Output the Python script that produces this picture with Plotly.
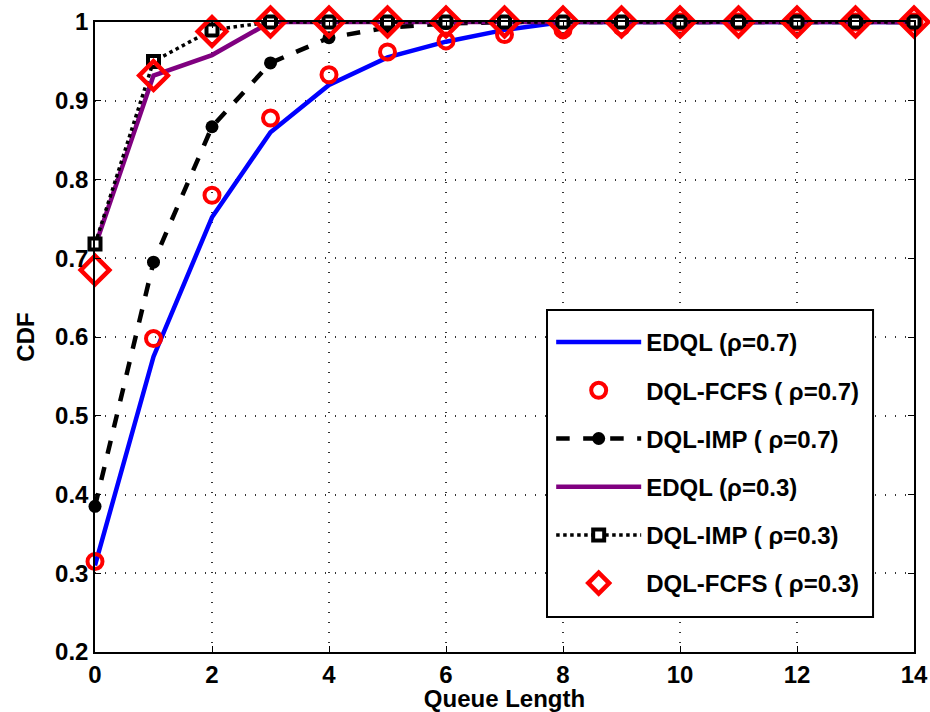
import plotly.graph_objects as go

queue_length = list(range(15))
edql_07 = [0.31, 0.575, 0.752, 0.86, 0.92, 0.955, 0.975, 0.99, 1, 1, 1, 1, 1, 1, 1]
fcfs_07 = [0.315, 0.598, 0.78, 0.878, 0.933, 0.962, 0.976, 0.984, 0.99, 0.994, 1, 1, 1, 1, 1]
imp_07 = [0.385, 0.695, 0.867, 0.948, 0.98, 0.993, 0.998, 1, 1, 1, 1, 1, 1, 1, 1]
edql_03 = [0.715, 0.932, 0.958, 1, 1, 1, 1, 1, 1, 1, 1, 1, 1, 1, 1]
imp_03 = [0.718, 0.95, 0.99, 1, 1, 1, 1, 1, 1, 1, 1, 1, 1, 1, 1]
fcfs_03 = [0.685, 0.932, 0.988, 1, 1, 1, 1, 1, 1, 1, 1, 1, 1, 1, 1]

x_ticks = [0, 2, 4, 6, 8, 10, 12, 14]
y_ticks = [0.2, 0.3, 0.4, 0.5, 0.6, 0.7, 0.8, 0.9, 1]
y_tick_labels = ["0.2", "0.3", "0.4", "0.5", "0.6", "0.7", "0.8", "0.9", "1"]

FONT = "Liberation Sans"

fig = go.Figure()
fig.add_trace(go.Scatter(x=queue_length, y=edql_07, mode="lines", name="EDQL (ρ=0.7)",
                         line=dict(color="#0000ff", width=4.5), legendgroup="a", cliponaxis=False))
fig.add_trace(go.Scatter(x=queue_length, y=fcfs_07, mode="markers", name="DQL-FCFS ( ρ=0.7)",
                         marker=dict(symbol="circle-open", color="#ff0000", size=15, line=dict(width=4, color="#ff0000")),
                         legendgroup="b", cliponaxis=False))
fig.add_trace(go.Scatter(x=queue_length, y=imp_07, mode="lines+markers", name="DQL-IMP ( ρ=0.7)",
                         line=dict(color="black", width=4.5, dash="dash"),
                         marker=dict(symbol="circle", color="black", size=13), legendgroup="c", cliponaxis=False))
fig.add_trace(go.Scatter(x=queue_length, y=edql_03, mode="lines", name="EDQL (ρ=0.3)",
                         line=dict(color="#800080", width=4.5), legendgroup="d", cliponaxis=False))
fig.add_trace(go.Scatter(x=queue_length, y=imp_03, mode="lines+markers", name="DQL-IMP ( ρ=0.3)",
                         line=dict(color="black", width=3.5, dash="dot"),
                         marker=dict(symbol="square", color="white", size=11, line=dict(width=4, color="black")),
                         legendgroup="e", cliponaxis=False))
fig.add_trace(go.Scatter(x=queue_length, y=fcfs_03, mode="markers", name="DQL-FCFS ( ρ=0.3)",
                         marker=dict(symbol="diamond-open", color="#ff0000", size=22, line=dict(width=4.5, color="#ff0000")),
                         legendgroup="f", cliponaxis=False))

axis_common = dict(
    showline=True, linecolor="black", linewidth=1.5, mirror="ticks",
    ticks="inside", ticklen=6, tickcolor="black",
    showgrid=True, gridcolor="#333333", griddash="1px,9px", gridwidth=1.5,
    zeroline=False, automargin=False,
    tickfont=dict(family=FONT, size=24, color="black", weight="bold"),
)

fig.update_layout(
    width=930, height=712,
    margin=dict(l=95, r=16, t=22, b=60),
    paper_bgcolor="white", plot_bgcolor="white",
    font=dict(family=FONT, color="black"),
    xaxis=dict(range=[0, 14], tickvals=x_ticks,
               title=dict(text="Queue Length", font=dict(family=FONT, size=24, color="black", weight="bold"), standoff=8),
               **axis_common),
    yaxis=dict(range=[0.2, 1], tickvals=y_ticks, ticktext=y_tick_labels,
               title=dict(text="CDF", font=dict(family=FONT, size=24, color="black", weight="bold"), standoff=14),
               **axis_common),
    legend=dict(x=0.557, y=0.527, xanchor="left", yanchor="top",
                bgcolor="rgba(0,0,0,0)", borderwidth=0,
                font=dict(family=FONT, size=24, color="black", weight="bold"),
                tracegroupgap=14, itemwidth=85, traceorder="grouped"),
    showlegend=True,
    shapes=[dict(type="rect", xref="paper", yref="paper", x0=0.5519, x1=0.950, y0=0.0556, y1=0.543,
                 fillcolor="white", line=dict(color="black", width=2), layer="above")],
)

fig.write_html("out.html", config={"displayModeBar": False},
               post_script="document.body.style.margin='0px';document.documentElement.style.overflow='hidden';")
